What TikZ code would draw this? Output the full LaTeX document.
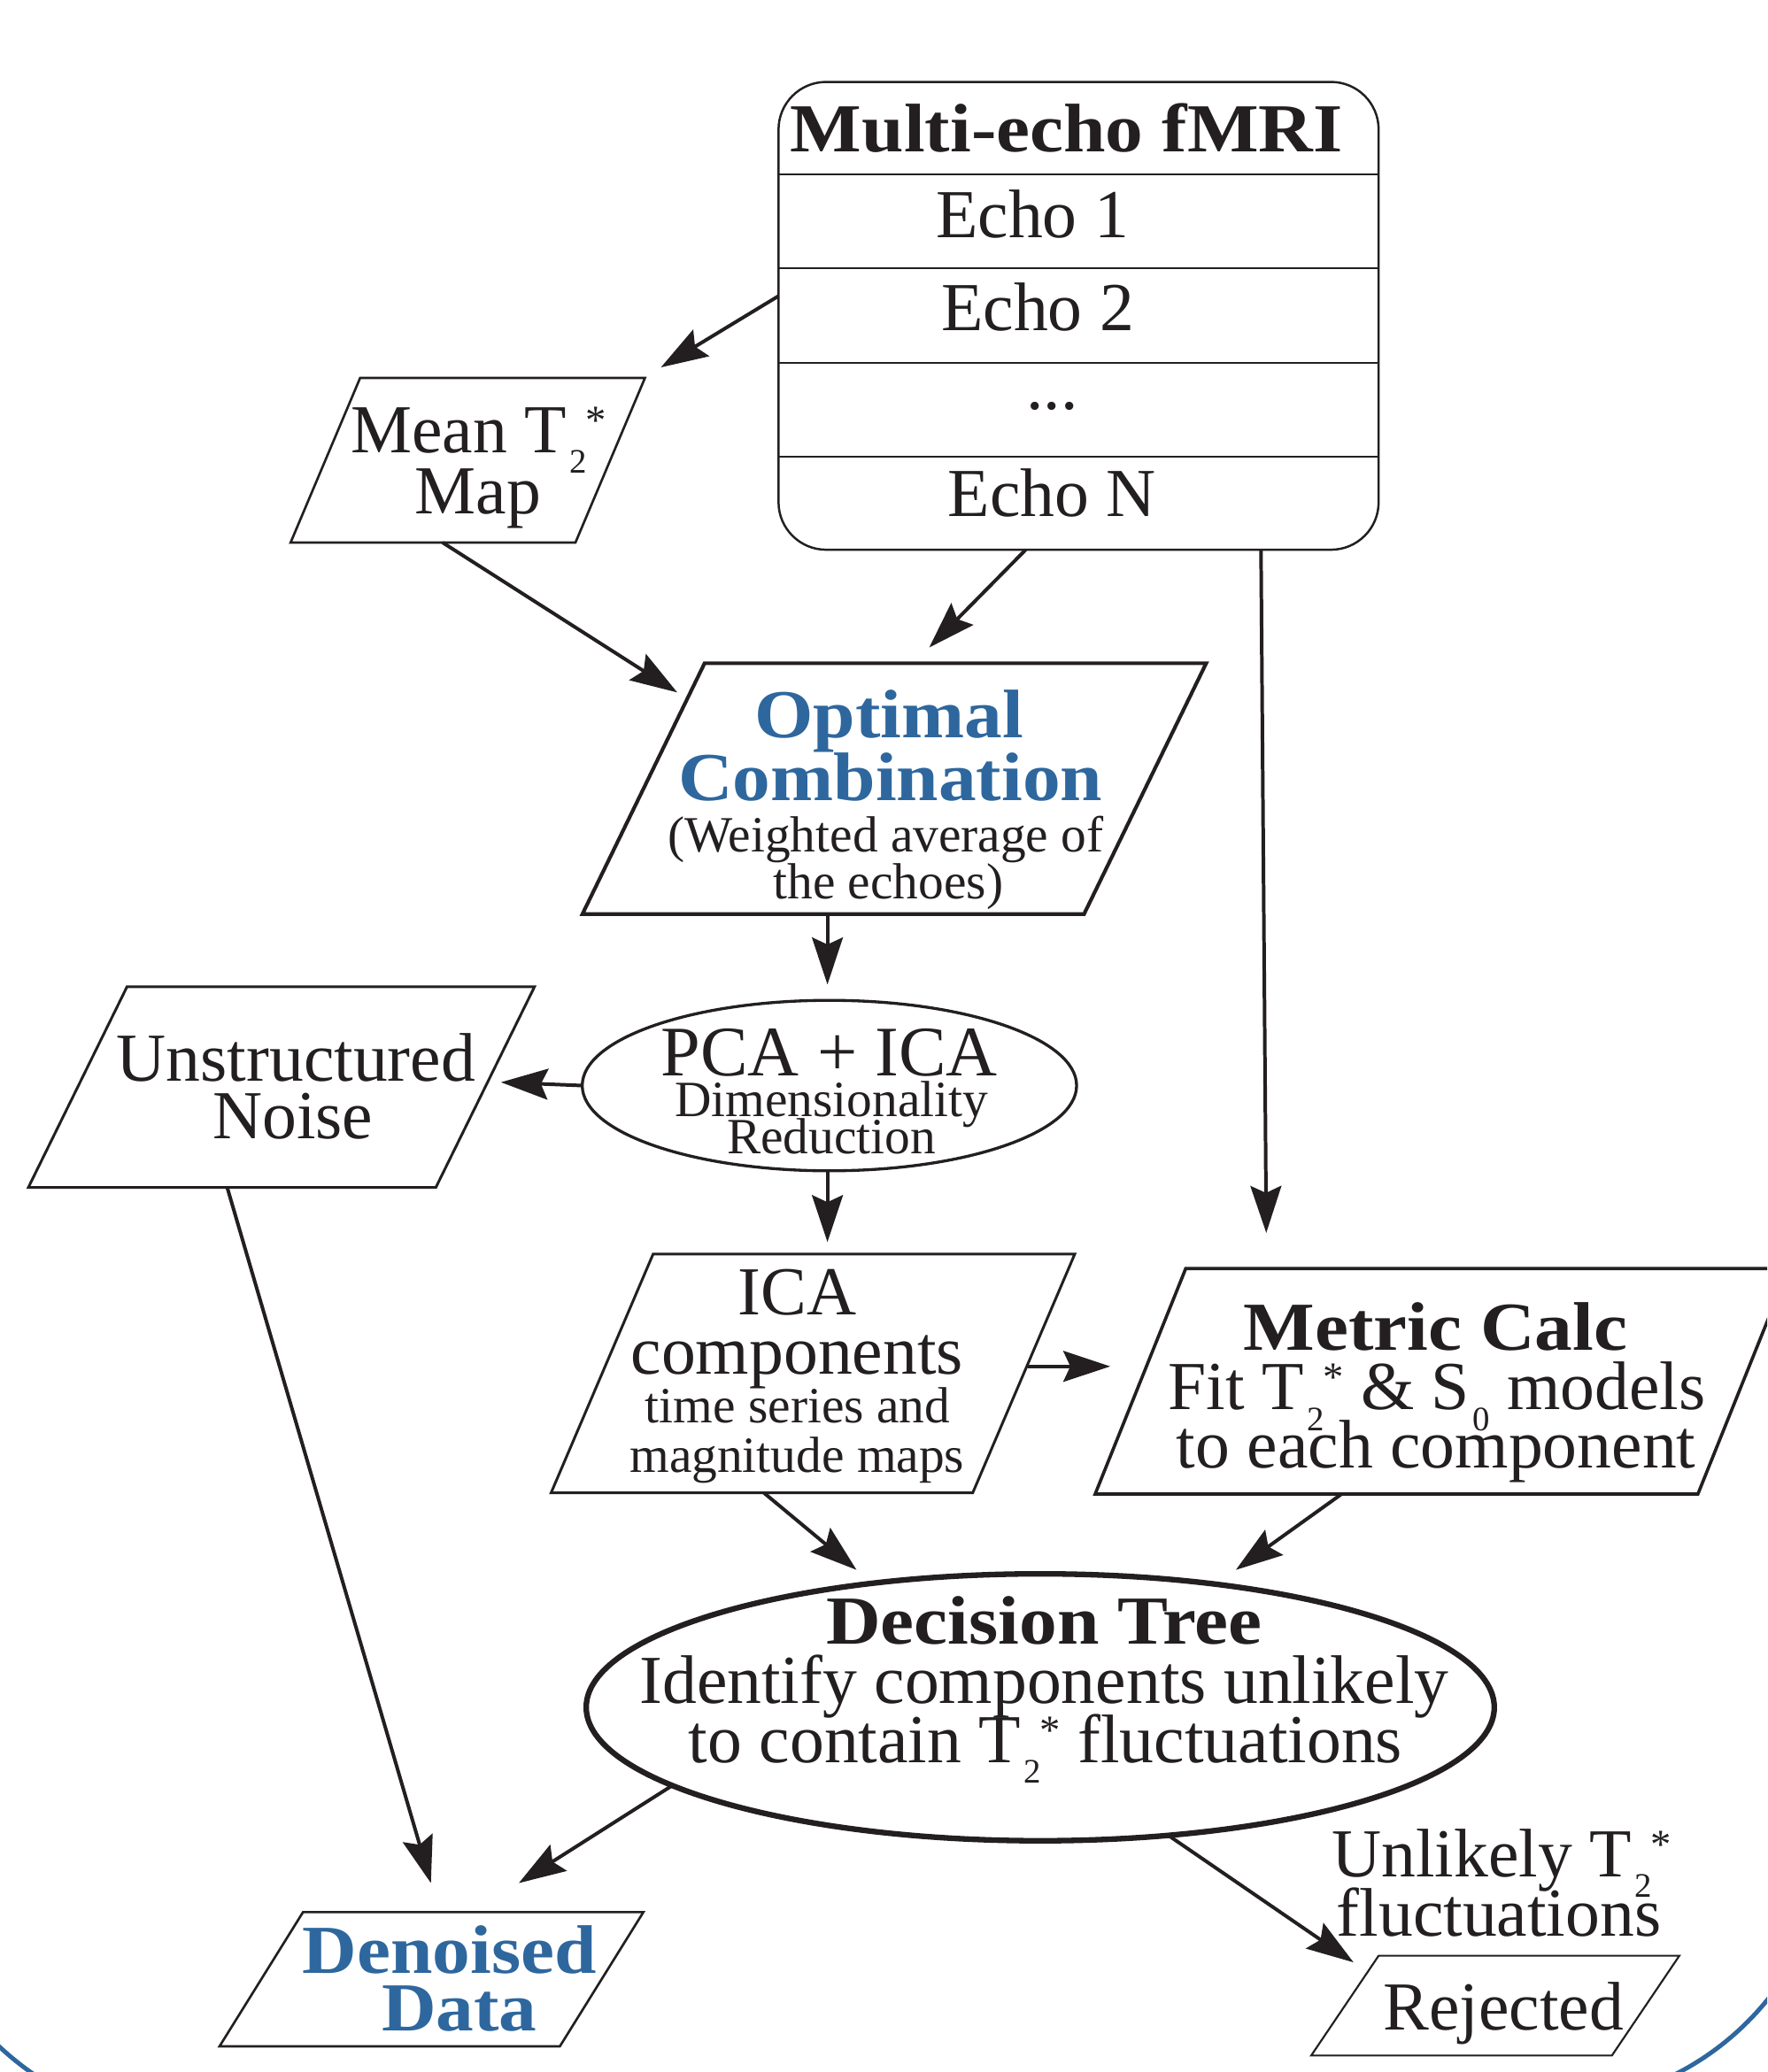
\documentclass[tikz,border=0pt]{standalone}
\usepackage{fontspec}
\usepackage{graphicx}
\setmainfont{Liberation Serif}
\newfontfamily\boldfam{Liberation Serif}[FakeStretch=1.1]
\usetikzlibrary{shapes.geometric,arrows.meta,calc}
\newlength\pxu
\setlength\pxu{0.45pt}
\definecolor{ink}{HTML}{231F20}
\definecolor{tblue}{HTML}{2E679E}
\newcommand{\Tst}{T\kern0.05em\raisebox{-0.3em}{\scalebox{0.5}{2}}\kern-0.02em\raisebox{0.27em}{\scalebox{0.6}{*}}}
\newcommand{\Szero}{S\kern0.04em\raisebox{-0.3em}{\scalebox{0.5}{0}}}
\newcommand{\bigtxt}{\fontsize{23.4pt}{28pt}\selectfont}
\newcommand{\smalltxt}{\fontsize{17.3pt}{21pt}\selectfont}
\newcommand{\parag}[3]{%
  \draw[#3] ($(#1.north west)+(#2,0)$) -- ($(#1.north east)+(#2,0)$)
    -- ($(#1.south east)+(-#2,0)$) -- ($(#1.south west)+(-#2,0)$) -- cycle;}
\tikzset{
  txt/.style={inner sep=0, outer sep=0, anchor=base, text=ink, font=\bigtxt,
              text height=0.66em, text depth=0.1em},
  stxt/.style={txt, font=\smalltxt},
  btxt/.style={txt, font=\boldfam\bfseries\bigtxt},
  frame/.style={inner sep=0, outer sep=0},
  shp/.style={draw=ink, line join=miter},
  arr/.style={draw=ink, line width=1.2pt, -{Stealth[length=16pt, width=10.5pt, inset=2.4pt]}},
}
\begin{document}
\begin{tikzpicture}[x=0.45pt, y=-0.45pt]
\useasboundingbox (0,0) rectangle (1337,1568);
\fill[white] (0,0) rectangle (1337,1568);
\clip (0,0) rectangle (1337,1568);

% Multi-echo fMRI
\node[frame, draw=ink, line width=0.75pt, rounded corners=16.2pt,
      minimum width=454\pxu, minimum height=354\pxu] (me) at (816,239) {};
\foreach \yy in {132,203,274.5,345.5}
  \draw[ink, line width=0.7pt] (me.west |- 0,\yy) -- (me.east |- 0,\yy);
\node[btxt] (meh) at (807,115) {Multi-echo fMRI};
\node[txt] (e1) at (781,180) {Echo 1};
\node[txt] (e2) at (785,250) {Echo 2};
\node[txt] (e3) at (796,310) {...};
\node[txt] (eN) at (796,391) {Echo N};

% Mean T2* map
\node[frame, minimum width=215.5\pxu, minimum height=124.6\pxu] (mean) at (353.9,348.3) {};
\parag{mean}{26.3}{shp, line width=0.8pt}
\node[txt] (meanA) at (362,342.7) {Mean \Tst};
\node[txt] (meanB) at (361.6,388.5) {Map};

% Optimal combination
\node[frame, minimum width=379.5\pxu, minimum height=189.8\pxu] (opt) at (676.6,596.8) {};
\parag{opt}{46.2}{shp, line width=1.25pt}
\node[btxt, text=tblue] (optA) at (672.5,558) {Optimal};
\node[btxt, text=tblue] (optB) at (673.6,606) {Combination};
\node[stxt] (optC) at (670,645) {(Weighted average of};
\node[stxt] (optD) at (672,680.5) {the echoes)};

% PCA + ICA
\node[frame, ellipse, draw=ink, line width=1pt,
      minimum width=374\pxu, minimum height=129\pxu] (pca) at (627.5,821.5) {};
\node[txt, font=\fontsize{24.2pt}{28pt}\selectfont] (pcaA) at (627.4,813.8) {PCA + ICA};
\node[stxt] (pcaB) at (629,845) {Dimensionality};
\node[stxt] (pcaC) at (629,873.4) {Reduction};

% Unstructured noise
\node[frame, minimum width=308.3\pxu, minimum height=151.8\pxu] (noise) at (212.9,822.7) {};
\parag{noise}{37.3}{shp, line width=0.9pt}
\node[txt] (noiseA) at (224,818) {Unstructured};
\node[txt] (noiseB) at (221.5,861.8) {Noise};

% ICA components
\node[frame, minimum width=319\pxu, minimum height=180.7\pxu] (ica) at (615,1039.4) {};
\parag{ica}{38.6}{shp, line width=0.9pt}
\node[txt] (icaA) at (603,995) {ICA};
\node[txt] (icaB) at (603,1040) {components};
\node[stxt] (icaC) at (603.5,1077) {time series and};
\node[stxt] (icaD) at (603,1114) {magnitude maps};

% Metric calc
\node[frame, minimum width=456\pxu, minimum height=170.6\pxu] (met) at (1090.8,1045.3) {};
\parag{met}{34.25}{shp, line width=1.1pt}
\node[btxt] (metA) at (1086,1021.6) {Metric Calc};
\node[txt] (metB) at (1087,1066.8) {Fit \Tst{} \& \Szero{} models};
\node[txt] (metC) at (1086.5,1111) {to each component};

% Decision tree
\node[frame, ellipse, draw=ink, line width=1.9pt,
      minimum width=687\pxu, minimum height=202\pxu] (dt) at (787,1292) {};
\node[btxt] (dtA) at (790,1244) {Decision Tree};
\node[txt] (dtB) at (790,1289) {Identify components unlikely};
\node[txt] (dtC) at (791,1334) {to contain \Tst{} fluctuations};

% Denoised data
\node[frame, minimum width=257.5\pxu, minimum height=101.6\pxu] (den) at (326.4,1497.8) {};
\parag{den}{31.6}{shp, line width=0.8pt}
\node[btxt, text=tblue] (denA) at (340,1493) {Denoised};
\node[btxt, text=tblue] (denB) at (347.5,1537) {Data};

% Rejected
\node[frame, minimum width=227.5\pxu, minimum height=75.5\pxu] (rej) at (1131.25,1517.75) {};
\parag{rej}{25.5}{shp, line width=0.65pt}
\node[txt] (rejA) at (1137.5,1536) {Rejected};
\node[txt] (labA) at (1136,1420) {Unlikely \Tst};
\node[txt] (labB) at (1134,1465) {fluctuations};

% connectors
\coordinate (tMean) at (500,278);
\coordinate (tOpt1) at (512.4,524);
\coordinate (tOpt2) at (703,490);
\coordinate (tMet1) at (958,933);
\coordinate (tPca) at (626,745);
\coordinate (tNoise) at (379,819);
\coordinate (tIca) at (626,940);
\coordinate (tDen1) at (326,1425);
\coordinate (tMet2) at (840,1034);
\coordinate (tDt1) at (648,1188);
\coordinate (tDt2) at (935,1188);
\coordinate (tDen2) at (392.5,1425);
\coordinate (tRej) at (1024,1485);

\draw[arr] ($(me.west)+(0,-15)$) -- (tMean);
\draw[arr] ($(mean.south)+(-19,0)$) -- (tOpt1);
\draw[arr] ($(me.south)+(-40,0)$) -- (tOpt2);
\draw[arr] ($(me.south)+(138,0)$) -- (tMet1);
\draw[arr] ($(opt.south)+(-50.6,0)$) -- (tPca);
\draw[arr] (pca.west) -- (tNoise);
\draw[arr] ($(pca.south)+(-1.5,0)$) -- (tIca);
\draw[arr] ($(noise.south)+(-41,0)$) -- (tDen1);
\draw[arr] ($(ica.east)+(3.1,-5.4)$) -- (tMet2);
\draw[arr] ($(ica.south)+(-37,0)$) -- (tDt1);
\draw[arr] ($(met.south)+(-75.8,0)$) -- (tDt2);
\draw[arr] (dt.192.2) -- (tDen2);
\draw[arr] (dt.315.6) -- (tRej);

% outer blue border (bottom corners)
\draw[tblue, line width=1.5pt] (-59.3,1460) arc[start angle=200, end angle=265, radius=102.6pt];
\draw[tblue, line width=1.5pt] (1364.9,1468.9) arc[start angle=-25, end angle=-80, radius=96.75pt];
\end{tikzpicture}
\end{document}
